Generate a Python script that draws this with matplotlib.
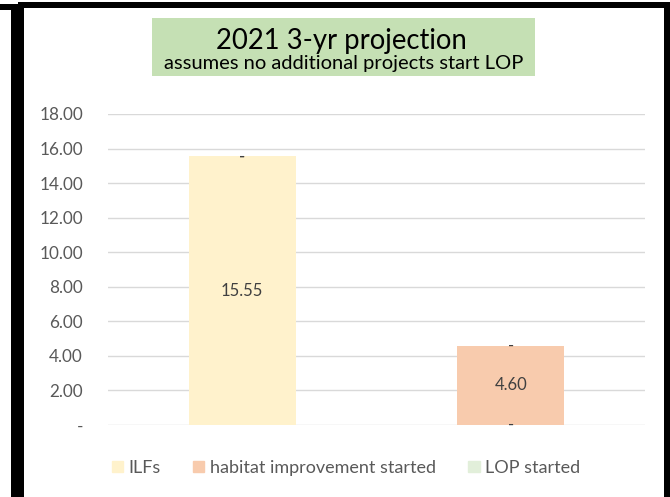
import matplotlib
matplotlib.use("Agg")
import matplotlib.pyplot as plt
from matplotlib.patches import Rectangle, Patch
import numpy as np

plt.rcParams["font.family"] = ["Lato", "DejaVu Sans"]

# stacked series per bar
categories = ["", ""]
ilfs = [15.55, 0.0]
habitat = [0.0, 4.60]
lop = [0.0, 0.0]
series_names = ["ILFs", "habitat improvement started", "LOP started"]
colors = ["#FFF2CC", "#F8CBAD", "#E2EFDA"]
yticks = [0, 2, 4, 6, 8, 10, 12, 14, 16, 18]

W, H = 670, 497
fig = plt.figure(figsize=(W / 100, H / 100), dpi=100)


def px_rect(x0, y0, x1, y1, color):
    # rectangle given in pixel coords measured from the top-left corner
    fig.patches.append(Rectangle((x0 / W, 1 - y1 / H), (x1 - x0) / W, (y1 - y0) / H,
                                 transform=fig.transFigure, color=color, lw=0, zorder=0))


# black frame pieces
px_rect(11, 10, 24, 497, "black")
px_rect(0, 4, 24, 10, "black")
px_rect(18, 2, 670, 8, "black")
px_rect(664, 2, 670, 497, "black")

# title box
px_rect(152, 18, 535, 76, "#C5E0B4")
fig.text(341 / W, 1 - 41 / H, "2021 3-yr projection", ha="center", va="center",
         fontsize=19.8, color="black")
fig.text(344 / W, 1 - 63 / H, "assumes no additional projects start LOP", ha="center",
         va="center", fontsize=14.5, color="black")

ax = fig.add_axes([108 / W, 1 - 425 / H, (645 - 108) / W, (425 - 114) / H])
x = np.arange(len(categories))
bottom = np.zeros(len(categories))
for vals, name, c in zip([ilfs, habitat, lop], series_names, colors):
    vals = np.array(vals)
    ax.bar(x, vals, 0.4, bottom=bottom, color=c, label=name, zorder=2)
    for xi, b, v in zip(x, bottom, vals):
        txt = "-" if v == 0 else f"{v:.2f}"
        ax.text(xi, b + v / 2, txt, ha="center", va="center", fontsize=12,
                color="#404040", zorder=3)
    bottom += vals

ax.set_xlim(-0.5, 1.5)
ax.set_ylim(0, 18)
ax.set_yticks(yticks)
ax.set_yticklabels(["-" if t == 0 else f"{t:.2f}" for t in yticks])
ax.set_xticks([])
ax.tick_params(axis="y", length=0, pad=18, labelsize=12.3, labelcolor="#595959")
ax.grid(axis="y", color="#D9D9D9", lw=1, zorder=0)
for s in ax.spines.values():
    s.set_visible(False)

handles = [Patch(color=c, label=n) for c, n in zip(colors, series_names)]
fig.legend(handles=handles, loc="center", bbox_to_anchor=(346 / W, 1 - 468 / H), ncol=3,
           frameon=False, fontsize=13, handlelength=0.62, handleheight=0.62,
           handletextpad=0.3, columnspacing=1.8, labelcolor="#595959")

fig.savefig("out.png", dpi=100, facecolor="white")
